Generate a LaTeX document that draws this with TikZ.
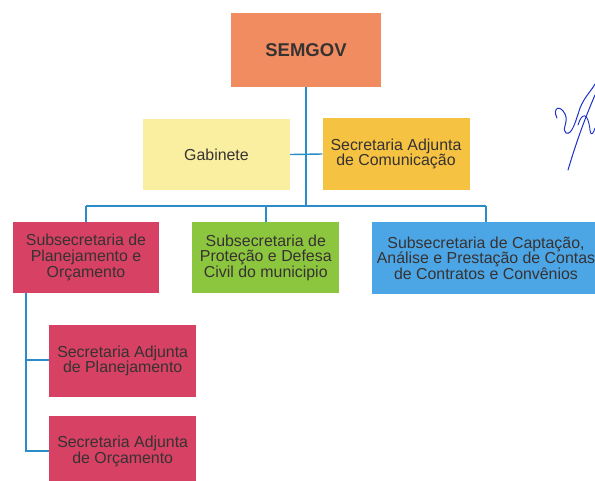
\documentclass[tikz,border=0pt]{standalone}
\usepackage{fontspec}
\setmainfont{Liberation Sans}
\definecolor{cSem}{RGB}{241,140,96}
\definecolor{cGab}{RGB}{250,239,160}
\definecolor{cCom}{RGB}{245,194,66}
\definecolor{cRed}{RGB}{214,65,100}
\definecolor{cGreen}{RGB}{140,198,63}
\definecolor{cBlue}{RGB}{76,166,230}
\definecolor{cLine}{RGB}{42,140,200}
\definecolor{cText}{RGB}{55,50,50}
\definecolor{cSig}{RGB}{30,50,200}
\begin{document}
\begin{tikzpicture}[x=1pt,y=-1pt,
  box/.style={draw=none,inner sep=0pt,align=center,text=cText,
    font=\fontsize{15.9}{15.6}\selectfont},
  conn/.style={draw=cLine,line width=1.4pt}]
\useasboundingbox (0,0) rectangle (595,480);
\clip (0,0) rectangle (595,480);
\fill[white] (0,0) rectangle (595,480);
\node[box,fill=cSem,minimum width=150pt,minimum height=74pt,font=\fontsize{18.5}{20}\selectfont\bfseries] (sem) at (306,50) {SEMGOV};
\node[box,fill=cGab,minimum width=147pt,minimum height=71pt] (gab) at (216.5,154.5) {Gabinete};
\node[box,fill=cCom,minimum width=147pt,minimum height=72pt] (com) at (396,154) {Secretaria Adjunta\\de Comunicação};
\node[box,fill=cRed,minimum width=146.6pt,minimum height=71pt] (s1) at (86,257.5) {Subsecretaria de\\Planejamento e\\Orçamento};
\node[box,fill=cGreen,minimum width=147pt,minimum height=71.6pt] (s2) at (265.8,257.5) {Subsecretaria de\\Proteção e Defesa\\Civil do municipio};
\node[box,fill=cBlue,minimum width=229pt,minimum height=72pt] (s3) at (486,258) {Subsecretaria de Captação,\\Análise e Prestação de Contas\\de Contratos e Convênios};
\node[box,fill=cRed,minimum width=147pt,minimum height=72pt] (a1) at (122.7,361) {Secretaria Adjunta\\de Planejamento};
\node[box,fill=cRed,minimum width=147pt,minimum height=71pt] (a2) at (122.7,451.5) {Secretaria Adjunta\\de Orçamento};
% connectors
\coordinate (busC) at (306,206);
\coordinate (busL) at (86,206);
\coordinate (busM) at (265.8,206);
\coordinate (busR) at (486,206);
\coordinate (s1out) at (26,293);
\coordinate (vEnd) at (26,451);
\coordinate (vMid) at (26,360);
\draw[conn] (sem.south) -- (busC);
\draw[conn] (gab.east) -- (com.west);
\draw[conn] (busL) -- (busR);
\draw[conn] (busL) -- (s1.north);
\draw[conn] (busM) -- (s2.north);
\draw[conn] (busR) -- (s3.north);
\draw[conn] (s1out) -- (vEnd) -- (a2.west |- vEnd);
\draw[conn] (vMid) -- (a1.west |- vMid);
% signature
\draw[cSig,line width=1pt,line cap=round,line join=round]
  (557,118) .. controls (552,108) and (560,104) .. (565,114)
  .. controls (569,122) and (561,130) .. (566,133)
  .. controls (572,136) and (576,120) .. (580,108)
  .. controls (585,96) and (592,90) .. (595,84);
\draw[cSig,line width=1pt,line cap=round]
  (568,170) .. controls (574,150) and (582,125) .. (595,95);
\draw[cSig,line width=0.9pt,line cap=round]
  (578,125) .. controls (582,112) and (588,112) .. (590,130)
  .. controls (591,138) and (594,132) .. (595,128);
\end{tikzpicture}
\end{document}
